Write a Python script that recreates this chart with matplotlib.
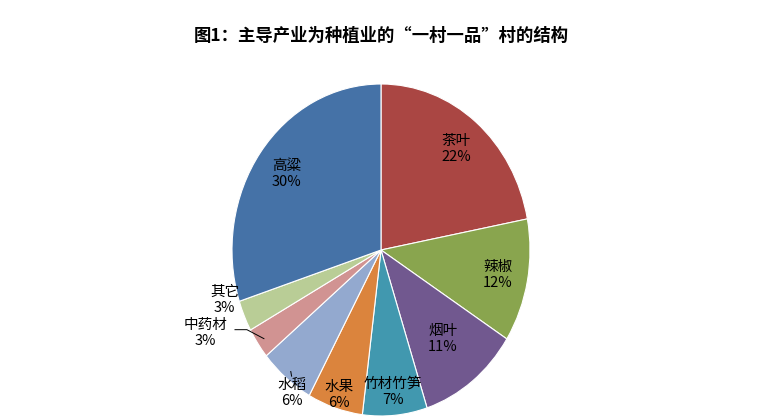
import matplotlib
matplotlib.use("Agg")
import matplotlib.pyplot as plt
import numpy as np

plt.rcParams['font.family'] = ['Noto Sans CJK SC', 'DejaVu Sans']

labels = ['茶叶', '辣椒', '烟叶', '竹材竹笋', '水果', '水稻', '中药材', '其它', '高粱']
values = [22, 12, 11, 7, 6, 6, 3, 3, 30]
colors = ['#AA4643', '#89A54E', '#71588F', '#4198AF', '#DB843D', '#93A9CF', '#D19392', '#B9CD96', '#4572A7']

fig = plt.figure(figsize=(7.62, 4.19), dpi=100)
fig.text(0.5, 0.915, '图1：主导产业为种植业的“一村一品”村的结构', ha='center', va='center',
         fontsize=12.5, fontweight='bold')
ax = fig.add_axes([232/762, 3/419, 298/762, 332/419])
wedges, _ = ax.pie(values, colors=colors, startangle=90, counterclock=False,
                   wedgeprops=dict(edgecolor='white', linewidth=0.8))
ax.set_aspect('auto')
ax.set_xlim(-1, 1); ax.set_ylim(-1, 1)

# label positions (fraction of radius) and leader lines
inside_r = {'茶叶': 0.79, '辣椒': 0.8, '烟叶': 0.68, '竹材竹笋': 0.86, '水果': 0.92, '高粱': 0.78}
outside_pos = {'水稻': (-0.6, -0.86), '中药材': (-1.18, -0.5), '其它': (-1.05, -0.3)}
for w, lab, v in zip(wedges, labels, values):
    mid = np.deg2rad((w.theta1 + w.theta2) / 2)
    txt = f'{lab}\n{v}%'
    if lab in inside_r:
        r = inside_r[lab]
        ax.text(r*np.cos(mid), r*np.sin(mid), txt, ha='center', va='center', fontsize=10.5,
                linespacing=1.2, clip_on=False)
    else:
        tx, ty = outside_pos[lab]
        ax.text(tx, ty, txt, ha='center', va='center', fontsize=10.5, linespacing=1.2, clip_on=False)
        ex, ey = 0.95*np.cos(mid), 0.95*np.sin(mid)
        if lab == '水稻':
            ax.plot([ex, tx], [ey, ty+0.1], color='black', lw=0.7, clip_on=False)
        elif lab == '中药材':
            ax.plot([ex, tx+0.28, tx+0.2], [ey, ty+0.02, ty+0.02], color='black', lw=0.7, clip_on=False)

fig.savefig('out.png', dpi=100)
